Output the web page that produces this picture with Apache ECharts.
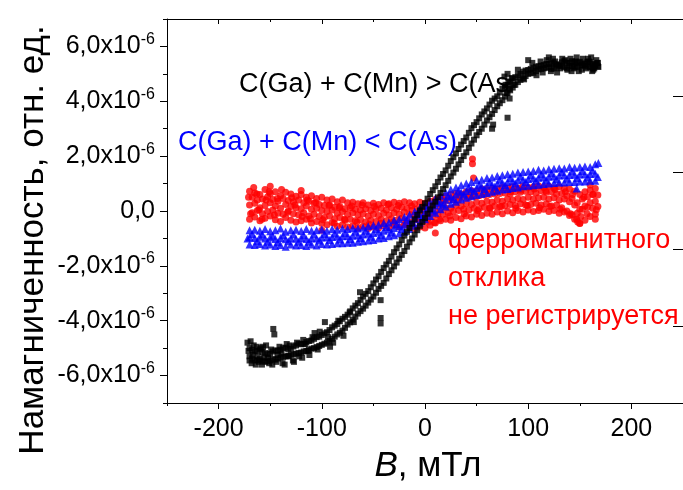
<!DOCTYPE html>
<html>
<head>
<meta charset="utf-8">
<script src="https://cdn.jsdelivr.net/npm/echarts@6.0.0/dist/echarts.min.js"></script>
<style>
  html, body { margin: 0; padding: 0; background: #fff; }
  #chart { width: 683px; height: 490px; }
</style>
</head>
<body>
<div id="chart"></div>
<script>
// Magnetization vs field, three samples. Field in mT, magnetization in units of 1e-6 (arb. units).

// field grid of the measurements, mT
const fieldMT = [
  -170,-165,-160,-155,-150,-145,-140,-135,-130,-125,
  -120,-115,-110,-105,-100,-95,-90,-85,-80,-75,
  -70,-65,-60,-55,-50,-45,-40,-35,-30,-25,
  -20,-15,-10,-5,0,5,10,15,20,25,
  30,35,40,45,50,55,60,65,70,75,
  80,85,90,95,100,105,110,115,120,125,
  130,135,140,145,150,155,160,165
];
const fieldHalf = [
  -167.5,-162.5,-157.5,-152.5,-147.5,-142.5,-137.5,-132.5,-127.5,-122.5,
  -117.5,-112.5,-107.5,-102.5,-97.5,-92.5,-87.5,-82.5,-77.5,-72.5,
  -67.5,-62.5,-57.5,-52.5,-47.5,-42.5,-37.5,-32.5,-27.5,-22.5,
  -17.5,-12.5,-7.5,-2.5,2.5,7.5,12.5,17.5,22.5,27.5,
  32.5,37.5,42.5,47.5,52.5,57.5,62.5,67.5,72.5,77.5,
  82.5,87.5,92.5,97.5,102.5,107.5,112.5,117.5,122.5,127.5,
  132.5,137.5,142.5,147.5,152.5,157.5,162.5,167.5
];

// C(Ga) + C(Mn) > C(As): descending and ascending branches of the loop
const blackDown = [
  -5.0,-5.12,-5.05,-5.18,-5.2,-5.08,-5.06,-4.98,-5.02,-4.9,
  -4.86,-4.78,-4.72,-4.6,-4.52,-4.42,-4.24,-4.12,-3.93,-3.78,
  -3.55,-3.36,-3.12,-2.92,-2.64,-2.38,-2.08,-1.82,-1.5,-1.22,
  -0.9,-0.62,-0.3,0.02,0.28,0.62,0.9,1.22,1.48,1.82,
  2.1,2.42,2.68,3.02,3.24,3.52,3.74,4.02,4.18,4.46,
  4.6,4.82,4.94,5.08,5.14,5.22,5.28,5.32,5.36,5.38,
  5.34,5.46,5.4,5.42,5.44,5.36,5.42,5.34
];
const blackUp = [
  -5.3,-5.45,-5.4,-5.5,-5.45,-5.42,-5.35,-5.3,-5.24,-5.2,
  -5.16,-5.1,-5.02,-4.96,-4.88,-4.8,-4.66,-4.5,-4.36,-4.14,
  -3.96,-3.74,-3.56,-3.34,-3.12,-2.84,-2.62,-2.3,-2.02,-1.74,
  -1.46,-1.14,-0.86,-0.54,-0.26,0.06,0.34,0.66,0.94,1.26,
  1.54,1.86,2.14,2.46,2.76,3.0,3.3,3.54,3.82,4.04,
  4.3,4.5,4.7,4.84,5.0,5.04,5.16,5.2,5.24,5.2,
  5.3,5.24,5.3,5.26,5.3,5.3,5.24,5.3
];
const blackDownHalf = [
  -5.06,-5.1,-5.14,-5.22,-5.12,-5.1,-5.0,-5.04,-4.94,-4.84,
  -4.84,-4.74,-4.66,-4.58,-4.46,-4.34,-4.18,-4.02,-3.86,-3.66,
  -3.45,-3.24,-3.02,-2.78,-2.5,-2.22,-1.95,-1.66,-1.36,-1.06,
  -0.76,-0.46,-0.14,0.15,0.45,0.76,1.06,1.35,1.65,1.96,
  2.26,2.55,2.85,3.13,3.38,3.63,3.88,4.1,4.32,4.53,
  4.72,4.88,5.0,5.12,5.18,5.26,5.3,5.36,5.4,5.34,
  5.42,5.4,5.46,5.4,5.38,5.44,5.36,5.4
];
const blackUpHalf = [
  -5.38,-5.44,-5.46,-5.48,-5.4,-5.38,-5.32,-5.28,-5.22,-5.18,
  -5.12,-5.06,-5.0,-4.92,-4.84,-4.74,-4.58,-4.44,-4.26,-4.06,
  -3.85,-3.65,-3.45,-3.23,-2.98,-2.73,-2.46,-2.16,-1.88,-1.6,
  -1.3,-1.0,-0.7,-0.4,-0.1,0.2,0.5,0.8,1.1,1.4,
  1.7,2.0,2.3,2.6,2.88,3.15,3.42,3.68,3.93,4.17,
  4.4,4.6,4.78,4.92,5.02,5.1,5.18,5.22,5.18,5.26,
  5.28,5.2,5.28,5.24,5.32,5.26,5.22,5.28
];
const blackScatter = [
  [-172,-4.8],[-168,-5.55],[-166,-4.9],[-162,-5.3],[-158,-5.6],[-157,-4.95],
  [-152,-5.35],[-148,-5.6],[-147,-4.3],[-146,-4.5],[-143,-5.25],[-138,-5.55],
  [-134,-4.85],[-128,-5.45],[-122,-5.3],[-118,-4.7],[-112,-5.25],[-107,-4.45],
  [-97,-4.05],[-92,-4.95],[-63,-2.96],[-43,-3.25],[-43,-3.9],[-43,-4.1],
  [-171,-5.1],[-170,-5.45],[-169,-4.75],[-167,-5.25],[-164,-5.6],[-163,-4.95],
  [-161,-5.5],[-159,-5.0],[-156,-5.35],[-154,-4.9],[-151,-5.55],[-149,-5.05],
  [-144,-5.5],[-141,-4.95],[-139,-5.2],[-136,-5.6],[-132,-5.3],[-131,-4.9],
  [-127,-5.5],[-124,-4.8],[-119,-5.35],[-116,-4.85],[-113,-5.1],[-109,-4.6],
  [-104,-5.05],[-102,-4.4],[-94,-4.6],[-89,-4.8],[-84,-4.0],[-79,-4.55],
  [-73,-3.7],[-69,-4.05],
  [65,3.0],[66,3.15],[80,3.4],[82,4.1],[77,4.9],[78,4.6],[79,4.3],[80,5.0],
  [81,4.7],[82,4.45],[84,4.85],[100,5.5],[108,4.95],[118,5.5],
  [128,5.05],[133,5.55],[142,5.1],[147,5.6],[152,5.15],[158,5.55],[162,5.1],
  [166,5.5],[164,5.2],[124,5.55],[112,5.45],
  [120,5.6],[122,5.1],[126,5.45],[131,5.2],[136,5.5],[138,5.15],[141,5.55],
  [144,5.2],[146,5.45],[149,5.1],[153,5.55],[156,5.2],[159,5.45],[161,5.6],
  [163,5.15],[167,5.4],[168,5.25],[104,5.4],[114,5.05],[96,4.8],[90,5.15],[86,4.6]
];

// C(Ga) + C(Mn) < C(As)
const blueMid = [
  -0.96,-0.98,-0.94,-1.0,-0.97,-1.02,-0.98,-1.03,-0.99,-1.01,
  -0.98,-1.02,-0.99,-1.0,-0.97,-0.96,-0.95,-0.93,-0.92,-0.91,
  -0.9,-0.88,-0.86,-0.83,-0.8,-0.76,-0.72,-0.67,-0.62,-0.56,
  -0.5,-0.4,-0.29,-0.16,-0.03,0.08,0.2,0.3,0.41,0.52,
  0.6,0.67,0.73,0.79,0.84,0.88,0.92,0.96,1.0,1.03,
  1.06,1.09,1.12,1.15,1.17,1.19,1.21,1.23,1.25,1.27,
  1.29,1.3,1.31,1.32,1.33,1.34,1.35,1.36
];
const blueHi = [
  -0.7,-0.68,-0.72,-0.66,-0.74,-0.7,-0.64,-0.76,-0.7,-0.68,
  -0.73,-0.66,-0.72,-0.7,-0.67,-0.72,-0.66,-0.68,-0.64,-0.66,
  -0.62,-0.64,-0.6,-0.56,-0.52,-0.5,-0.44,-0.42,-0.34,-0.3,
  -0.22,-0.14,-0.02,0.1,0.22,0.34,0.46,0.56,0.68,0.78,
  0.86,0.94,1.0,1.06,1.12,1.14,1.2,1.22,1.28,1.3,
  1.34,1.36,1.4,1.42,1.44,1.46,1.5,1.48,1.52,1.54,
  1.56,1.55,1.6,1.58,1.6,1.62,1.6,1.7
];
const blueLo = [
  -1.22,-1.24,-1.2,-1.26,-1.22,-1.28,-1.24,-1.3,-1.22,-1.26,
  -1.24,-1.28,-1.22,-1.26,-1.2,-1.22,-1.2,-1.18,-1.18,-1.16,
  -1.16,-1.12,-1.1,-1.08,-1.06,-1.0,-0.98,-0.92,-0.88,-0.82,
  -0.76,-0.66,-0.54,-0.42,-0.3,-0.18,-0.06,0.06,0.16,0.26,
  0.34,0.42,0.48,0.54,0.58,0.62,0.66,0.7,0.74,0.78,
  0.8,0.84,0.86,0.9,0.92,0.94,0.96,0.98,1.0,1.02,
  1.04,1.04,1.06,1.06,1.08,1.08,1.1,1.1
];
const blueHalf = [
  -0.84,-1.1,-0.86,-1.12,-0.9,-1.14,-0.88,-1.1,-0.86,-1.12,
  -0.88,-1.12,-0.86,-1.08,-0.84,-1.06,-0.82,-1.04,-0.8,-1.02,
  -0.76,-0.98,-0.72,-0.94,-0.66,-0.88,-0.58,-0.78,-0.48,-0.66,
  -0.32,-0.44,-0.1,-0.22,0.12,0.02,0.34,0.24,0.56,0.44,
  0.74,0.6,0.86,0.72,0.96,0.8,1.06,0.88,1.14,0.94,
  1.2,1.0,1.26,1.06,1.3,1.1,1.34,1.12,1.38,1.16,
  1.42,1.18,1.44,1.2,1.46,1.22,1.48,1.24
];
const blueScatter = [[147,0.82],[168,1.75],[-172,-1.0]];

// sample without a ferromagnetic response
const redMid = [
  0.22,0.28,0.12,0.2,0.3,0.18,0.1,0.24,0.16,0.12,
  0.08,0.18,0.06,0.1,0.02,-0.02,0.04,-0.08,-0.02,-0.12,
  -0.06,-0.14,-0.1,-0.18,-0.12,-0.16,-0.08,-0.14,-0.06,-0.12,
  -0.04,-0.12,-0.16,-0.1,-0.14,-0.06,0.0,0.06,0.12,0.1,
  0.2,0.18,0.26,0.24,0.32,0.28,0.36,0.32,0.4,0.36,
  0.44,0.4,0.46,0.42,0.5,0.44,0.48,0.5,0.44,0.48,
  0.4,0.44,0.34,0.22,0.06,0.18,0.3,0.36
];
const redHi = [
  0.72,0.66,0.6,0.78,0.64,0.7,0.56,0.68,0.62,0.54,
  0.6,0.5,0.56,0.46,0.5,0.4,0.44,0.34,0.4,0.3,
  0.32,0.26,0.3,0.22,0.28,0.24,0.3,0.26,0.32,0.28,
  0.34,0.3,0.26,0.32,0.28,0.36,0.42,0.5,0.54,0.6,
  0.64,0.62,0.7,0.74,0.72,0.8,0.78,0.82,0.8,0.86,
  0.84,0.88,0.84,0.9,0.86,0.88,0.92,0.86,0.9,0.84,
  0.88,0.82,0.8,0.72,0.6,0.7,0.76,0.82
];
const redLo = [
  -0.3,-0.22,-0.36,-0.26,-0.18,-0.32,-0.38,-0.24,-0.34,-0.4,
  -0.36,-0.3,-0.44,-0.38,-0.46,-0.5,-0.42,-0.56,-0.5,-0.58,
  -0.54,-0.62,-0.56,-0.64,-0.58,-0.62,-0.54,-0.6,-0.52,-0.58,
  -0.5,-0.56,-0.64,-0.58,-0.62,-0.52,-0.44,-0.36,-0.3,-0.34,
  -0.24,-0.28,-0.18,-0.22,-0.12,-0.16,-0.08,-0.12,-0.04,-0.1,
  0.0,-0.06,0.02,-0.04,0.04,-0.02,0.02,0.06,-0.02,0.02,
  -0.08,-0.04,-0.16,-0.3,-0.46,-0.34,-0.2,-0.12
];
const redA = [
  0.5,0.4,0.44,0.52,0.42,0.36,0.46,0.38,0.34,0.4,
  0.3,0.36,0.28,0.24,0.2,0.22,0.14,0.16,0.08,0.12,
  0.06,0.04,0.08,0.02,0.06,0.1,0.04,0.12,0.06,0.14,
  0.1,0.04,0.08,0.06,0.12,0.2,0.26,0.3,0.38,0.42,
  0.4,0.5,0.48,0.54,0.56,0.58,0.6,0.62,0.64,0.66,
  0.62,0.7,0.68,0.72,0.7,0.66,0.74,0.68,0.7,0.62,
  0.64,0.56,0.46,0.3,0.44,0.52,0.6,0.58
];
const redB = [
  -0.06,0.02,-0.1,-0.02,0.04,-0.08,-0.12,0.0,-0.1,-0.14,
  -0.06,-0.18,-0.12,-0.2,-0.24,-0.18,-0.28,-0.24,-0.34,-0.3,
  -0.36,-0.32,-0.4,-0.34,-0.38,-0.3,-0.36,-0.28,-0.34,-0.26,
  -0.36,-0.4,-0.32,-0.38,-0.3,-0.22,-0.14,-0.12,-0.06,-0.02,
  0.02,0.06,0.04,0.1,0.08,0.14,0.12,0.18,0.16,0.2,
  0.24,0.2,0.26,0.22,0.24,0.28,0.22,0.26,0.18,0.22,
  0.12,0.0,-0.14,-0.08,0.06,0.14,0.1,0.16
];
const redScatter = [
  [46,1.9],[46,1.72],[47,1.2],[10,-0.8],[9,-0.42],[-166,0.86],[-150,0.9],
  [-120,0.75],[150,-0.45],[148,-0.4],[165,-0.3],[160,0.95],[-100,-0.7],
  [-171,0.5],[-169,-0.1],[-163,0.62],[-161,0.05],[-158,-0.3],[-154,0.4],[-151,0.7],
  [-146,-0.15],[-143,0.46],[-139,0.78],[-133,-0.05],[-129,0.48],[-126,0.22],
  [-119,-0.2],[-114,0.4],[-111,-0.28],[-106,0.3],[-99,-0.32],[-93,0.2],[-88,-0.45],
  [-83,0.12],[-78,-0.3],[-71,0.18],[-66,-0.4],[-61,0.22],[-54,-0.48],[-49,0.16],
  [-43,-0.44],[-36,0.24],[-31,-0.4],[-26,0.2],[-19,-0.46],[-13,0.18],[-9,-0.3],
  [-3,0.14],[3,-0.4],[14,-0.3],[18,0.4],[24,-0.18],[33,0.5],[38,-0.1],[44,0.56],
  [51,0.02],[58,0.7],[63,0.1],[69,0.72],[74,0.16],[83,0.7],[88,0.1],[93,0.76],
  [99,0.2],[106,0.8],[111,0.12],[117,0.74],[121,0.16],[126,0.78],[131,0.06],
  [136,0.7],[141,-0.1],[143,0.6],[147,-0.3],[151,-0.2],[154,0.5],[157,-0.1],
  [163,0.6],[166,0.05]
];

// axis ticks
const xMajor = [-200, -100, 0, 100, 200];
const xMinor = [-250, -150, -50, 50, 150, 250];
const yMajor = [-6, -4, -2, 0, 2, 4, 6];
const yMinor = [-7, -5, -3, -1, 1, 3, 5, 7];

const FONT = '"Liberation Sans", Arial, sans-serif';

function pairs(xs, ys) {
  const n = Math.min(xs.length, ys.length);
  const out = [];
  for (let i = 0; i < n; i++) out.push([xs[i], ys[i]]);
  return out;
}

const blackData = [].concat(
  pairs(fieldMT, blackDown), pairs(fieldMT, blackUp),
  pairs(fieldHalf, blackDownHalf), pairs(fieldHalf, blackUpHalf),
  blackScatter
);
const blueData = [].concat(
  pairs(fieldMT, blueMid), pairs(fieldMT, blueHi), pairs(fieldMT, blueLo),
  pairs(fieldHalf, blueHalf), blueScatter
);
const redData = [].concat(
  pairs(fieldMT, redMid), pairs(fieldMT, redHi), pairs(fieldMT, redLo),
  pairs(fieldHalf, redA), pairs(fieldHalf, redB), redScatter
);

function yLabel(v) {
  if (Math.abs(v) < 1e-9) return '{m|0,0}';
  return '{m|' + v.toFixed(1).replace('.', ',') + 'x10}{s|-6}';
}

const lineStyle = { color: '#000', width: 1 };
const chart = echarts.init(document.getElementById('chart'), null, { renderer: 'canvas' });

chart.setOption({
  animation: false,
  backgroundColor: '#fff',
  grid: { left: 167, top: 19, width: 523, height: 384, containLabel: false },
  xAxis: [
    {
      type: 'value', position: 'bottom', min: -250, max: 250,
      axisLine: { show: true, onZero: false, lineStyle },
      axisTick: { show: true, inside: false, length: 6, customValues: xMajor, lineStyle },
      axisLabel: { show: true, customValues: xMajor, margin: 14, color: '#000', fontSize: 25, fontFamily: FONT },
      splitLine: { show: false }
    },
    {
      type: 'value', position: 'bottom', offset: 0, min: -250, max: 250,
      axisLine: { show: false, onZero: false },
      axisTick: { show: true, inside: false, length: 3, customValues: xMinor, lineStyle },
      axisLabel: { show: false }, splitLine: { show: false }
    },
    {
      type: 'value', position: 'top', offset: 0, min: -250, max: 250,
      axisLine: { show: true, onZero: false, lineStyle },
      axisTick: { show: true, inside: true, length: 5, customValues: xMajor, lineStyle },
      axisLabel: { show: false }, splitLine: { show: false }
    },
    {
      type: 'value', position: 'top', offset: 0, min: -250, max: 250,
      axisLine: { show: false, onZero: false },
      axisTick: { show: true, inside: true, length: 3, customValues: xMinor, lineStyle },
      axisLabel: { show: false }, splitLine: { show: false }
    }
  ],
  yAxis: [
    {
      type: 'value', position: 'left', min: -7, max: 7,
      axisLine: { show: true, onZero: false, lineStyle },
      axisTick: { show: true, inside: false, length: 7, customValues: yMajor, lineStyle },
      axisLabel: {
        show: true, customValues: yMajor, margin: 12, formatter: yLabel,
        rich: {
          m: { fontSize: 25, fontFamily: FONT, color: '#000', lineHeight: 30 },
          s: { fontSize: 16, fontFamily: FONT, color: '#000', lineHeight: 30, verticalAlign: 'top', padding: [0, 0, 12, 0] }
        }
      },
      splitLine: { show: false }
    },
    {
      type: 'value', position: 'left', offset: 0, min: -7, max: 7,
      axisLine: { show: false, onZero: false },
      axisTick: { show: true, inside: false, length: 4, customValues: yMinor, lineStyle },
      axisLabel: { show: false }, splitLine: { show: false }
    },
    {
      type: 'value', position: 'right', offset: 0, min: 0, max: 5, interval: 1,
      axisLine: { show: true, onZero: false, lineStyle },
      axisTick: { show: true, inside: true, length: 10, lineStyle },
      axisLabel: { show: false }, splitLine: { show: false }
    }
  ],
  series: [
    {
      type: 'scatter', name: 'red', xAxisIndex: 0, yAxisIndex: 0,
      symbol: 'circle', symbolSize: 7, data: redData,
      itemStyle: { color: '#ff0000' }, z: 3
    },
    {
      type: 'scatter', name: 'blue', xAxisIndex: 0, yAxisIndex: 0,
      symbol: 'triangle', symbolSize: 8, data: blueData,
      itemStyle: { color: '#0000ff' }, z: 4
    },
    {
      type: 'scatter', name: 'black', xAxisIndex: 0, yAxisIndex: 0,
      symbol: 'rect', symbolSize: 6, data: blackData,
      itemStyle: { color: '#000' }, z: 5
    }
  ],
  graphic: [
    {
      type: 'text', x: 239, y: 85, z: 1,
      style: { text: 'C(Ga) + C(Mn) > C(As', fill: '#000', fontSize: 27, fontFamily: FONT, align: 'left', verticalAlign: 'middle' }
    },
    {
      type: 'text', x: 178, y: 143, z: 1,
      style: { text: 'C(Ga) + C(Mn) < C(As)', fill: '#0000ff', fontSize: 27, fontFamily: FONT, align: 'left', verticalAlign: 'middle' }
    },
    {
      type: 'text', x: 448, y: 241, z: 1,
      style: { text: 'ферромагнитного', fill: '#ff0000', fontSize: 27, fontFamily: FONT, align: 'left', verticalAlign: 'middle' }
    },
    {
      type: 'text', x: 448, y: 279, z: 1,
      style: { text: 'отклика', fill: '#ff0000', fontSize: 27, fontFamily: FONT, align: 'left', verticalAlign: 'middle' }
    },
    {
      type: 'text', x: 448, y: 317, z: 1,
      style: { text: 'не регистрируется', fill: '#ff0000', fontSize: 27, fontFamily: FONT, align: 'left', verticalAlign: 'middle' }
    },
    {
      type: 'text', x: 428, y: 466, z: 1,
      style: {
        text: '{i|B}, мТл', fill: '#000', fontSize: 35, fontFamily: FONT, align: 'center', verticalAlign: 'middle',
        rich: { i: { fontStyle: 'italic', fontSize: 35, fontFamily: FONT, fill: '#000' } }
      }
    },
    {
      type: 'text', x: 33, y: 240, rotation: Math.PI / 2, z: 1,
      style: { text: 'Намагниченность, отн. ед.', fill: '#000', fontSize: 35, fontFamily: FONT, align: 'center', verticalAlign: 'middle' }
    }
  ]
});
</script>
</body>
</html>
